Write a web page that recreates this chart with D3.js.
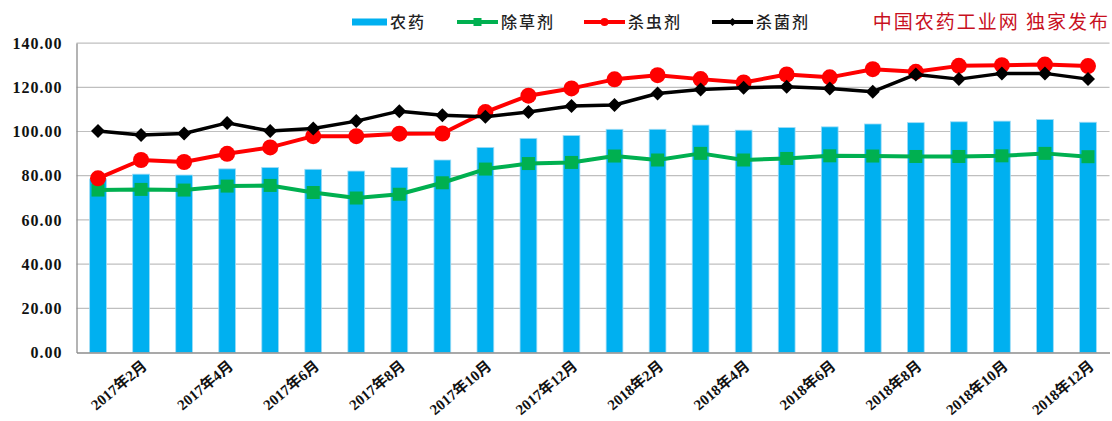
<!DOCTYPE html>
<html>
<head>
<meta charset="utf-8">
<script src="https://cdn.jsdelivr.net/npm/d3@7"></script>
<style>
  html, body { margin: 0; padding: 0; background: #fff; }
  svg { display: block; }
</style>
</head>
<body>
<svg id="chart" width="1112" height="421"></svg>
<script>
const categories = [
  "2017年1月","2017年2月","2017年3月","2017年4月","2017年5月","2017年6月",
  "2017年7月","2017年8月","2017年9月","2017年10月","2017年11月","2017年12月",
  "2018年1月","2018年2月","2018年3月","2018年4月","2018年5月","2018年6月",
  "2018年7月","2018年8月","2018年9月","2018年10月","2018年11月","2018年12月"
];
const tickLabels = ["2017年2月","2017年4月","2017年6月","2017年8月","2017年10月","2017年12月",
  "2018年2月","2018年4月","2018年6月","2018年8月","2018年10月","2018年12月"];
const yTicks = [0, 20, 40, 60, 80, 100, 120, 140];

const pesticide   = [78.5, 80.7, 80.3, 83.1, 83.7, 82.9, 82.1, 83.7, 87.1, 92.8, 96.9, 98.2,
                     101.0, 101.0, 102.9, 100.6, 101.8, 102.1, 103.4, 104.0, 104.4, 104.7, 105.4, 104.2];
const herbicide   = [73.5, 73.8, 73.5, 75.3, 75.6, 72.4, 69.9, 71.6, 76.8, 83.0, 85.5, 86.0,
                     88.9, 87.1, 90.1, 87.1, 87.8, 89.0, 88.9, 88.7, 88.7, 89.0, 90.1, 88.6];
const insecticide = [78.8, 87.1, 86.2, 89.9, 92.8, 97.9, 97.9, 99.0, 99.1, 108.8, 116.2, 119.5,
                     123.6, 125.5, 123.7, 122.2, 125.8, 124.5, 128.2, 127.0, 129.7, 130.0, 130.3, 129.6];
const fungicide   = [100.2, 98.4, 99.1, 103.9, 100.2, 101.4, 104.7, 109.2, 107.4, 106.7, 108.8, 111.5,
                     112.0, 117.2, 119.0, 119.8, 120.2, 119.5, 118.0, 125.8, 123.7, 126.3, 126.3, 123.7];

const seriesNames = ["农药", "除草剂", "杀虫剂", "杀菌剂"];
const watermark = "中国农药工业网 独家发布";

const svg = d3.select("#chart");
const pLeft = 76.5, pRight = 1109.5, pTop = 43.1, pBottom = 352.5;

const x = d3.scaleBand().domain(categories).range([pLeft, pRight])
  .paddingInner(0.61).paddingOuter(0.305);
const y = d3.scaleLinear().domain([0, 140]).range([pBottom, pTop]);
const cx = d => x(d) + x.bandwidth() / 2;

// gridlines
svg.append("g").selectAll("line").data(yTicks.filter(t => t > 0)).join("line")
  .attr("x1", pLeft).attr("x2", pRight)
  .attr("y1", d => y(d)).attr("y2", d => y(d))
  .attr("stroke", "#bfbfbf").attr("stroke-width", 1.2);

// y axis
const yAxis = svg.append("g").attr("transform", `translate(${pLeft},0)`)
  .call(d3.axisLeft(y).tickValues(yTicks).tickSize(0).tickPadding(14).tickFormat(d3.format(".2f")));
yAxis.select(".domain").attr("stroke", "#8c8c8c").attr("stroke-width", 1.3);
yAxis.selectAll("text")
  .attr("font-family", "'Liberation Serif', 'Times New Roman', serif")
  .attr("font-weight", "bold").attr("font-size", 16).attr("letter-spacing", 1).attr("fill", "#111");

// bars
svg.append("g").selectAll("rect").data(pesticide).join("rect")
  .attr("x", (d, i) => x(categories[i]))
  .attr("width", x.bandwidth())
  .attr("y", d => y(d))
  .attr("height", d => y(0) - y(d))
  .attr("fill", "#00b0f0")
  .attr("stroke", "#9fdcf6").attr("stroke-width", 0.8);

// x axis
const xAxis = svg.append("g").attr("transform", `translate(0,${pBottom})`)
  .call(d3.axisBottom(x).tickValues(tickLabels).tickSize(0).tickPadding(0));
xAxis.select(".domain").attr("stroke", "#8c8c8c").attr("stroke-width", 1.3);
xAxis.selectAll("text")
  .attr("font-family", "'Liberation Serif', 'Times New Roman', 'Noto Sans CJK SC', serif")
  .attr("font-weight", "bold").attr("font-size", 15).attr("fill", "#111")
  .attr("text-anchor", "end")
  .attr("dy", 0)
  .attr("transform", "translate(7,15) rotate(-40)");

const line = d3.line().x((d, i) => cx(categories[i])).y(d => y(d));

// herbicide (green, squares)
svg.append("path").datum(herbicide).attr("d", line)
  .attr("fill", "none").attr("stroke", "#00b050").attr("stroke-width", 4).attr("stroke-linejoin", "round");
svg.append("g").selectAll("rect").data(herbicide).join("rect")
  .attr("x", (d, i) => cx(categories[i]) - 6.5).attr("y", d => y(d) - 6.5)
  .attr("width", 13).attr("height", 13).attr("fill", "#00b050");

// insecticide (red, circles)
svg.append("path").datum(insecticide).attr("d", line)
  .attr("fill", "none").attr("stroke", "#ff0000").attr("stroke-width", 4).attr("stroke-linejoin", "round");
svg.append("g").selectAll("circle").data(insecticide).join("circle")
  .attr("cx", (d, i) => cx(categories[i])).attr("cy", d => y(d))
  .attr("r", 8).attr("fill", "#ff0000");

// fungicide (black, diamonds)
svg.append("path").datum(fungicide).attr("d", line)
  .attr("fill", "none").attr("stroke", "#000").attr("stroke-width", 3.5).attr("stroke-linejoin", "round");
svg.append("g").selectAll("path").data(fungicide).join("path")
  .attr("transform", (d, i) => `translate(${cx(categories[i])},${y(d)})`)
  .attr("d", "M0,-7L7,0L0,7L-7,0Z").attr("fill", "#000");

// legend
const lg = svg.append("g");
const ly = 22;
const legFont = "'Noto Sans CJK SC', sans-serif";
lg.append("rect").attr("x", 352).attr("y", ly - 3.5).attr("width", 35).attr("height", 7).attr("fill", "#00b0f0");
const legendItems = [
  {name: seriesNames[1], color: "#00b050", x0: 457, marker: "square"},
  {name: seriesNames[2], color: "#ff0000", x0: 584, marker: "circle"},
  {name: seriesNames[3], color: "#000000", x0: 712, marker: "diamond"}
];
legendItems.forEach(it => {
  lg.append("line").attr("x1", it.x0).attr("x2", it.x0 + 41).attr("y1", ly).attr("y2", ly)
    .attr("stroke", it.color).attr("stroke-width", 4);
  const mx = it.x0 + 20.5;
  if (it.marker === "square") lg.append("rect").attr("x", mx - 4).attr("y", ly - 4).attr("width", 8).attr("height", 8).attr("fill", it.color);
  if (it.marker === "circle") lg.append("circle").attr("cx", mx).attr("cy", ly).attr("r", 4).attr("fill", it.color);
  if (it.marker === "diamond") lg.append("path").attr("d", `M${mx},${ly-4}L${mx+4},${ly}L${mx},${ly+4}L${mx-4},${ly}Z`).attr("fill", it.color);
  lg.append("text").attr("x", it.x0 + 44).attr("y", ly + 6).text(it.name)
    .attr("font-family", legFont).attr("font-size", 16).attr("font-weight", 500).attr("letter-spacing", 2).attr("fill", "#222");
});
lg.append("text").attr("x", 390).attr("y", ly + 6).text(seriesNames[0])
  .attr("font-family", legFont).attr("font-size", 16).attr("font-weight", 500).attr("letter-spacing", 2).attr("fill", "#222");

svg.append("text").attr("x", 1110).attr("y", ly + 7).attr("text-anchor", "end")
  .text(watermark).attr("font-family", legFont).attr("font-size", 19).attr("letter-spacing", 2)
  .attr("fill", "#c8101e");
</script>
</body>
</html>
